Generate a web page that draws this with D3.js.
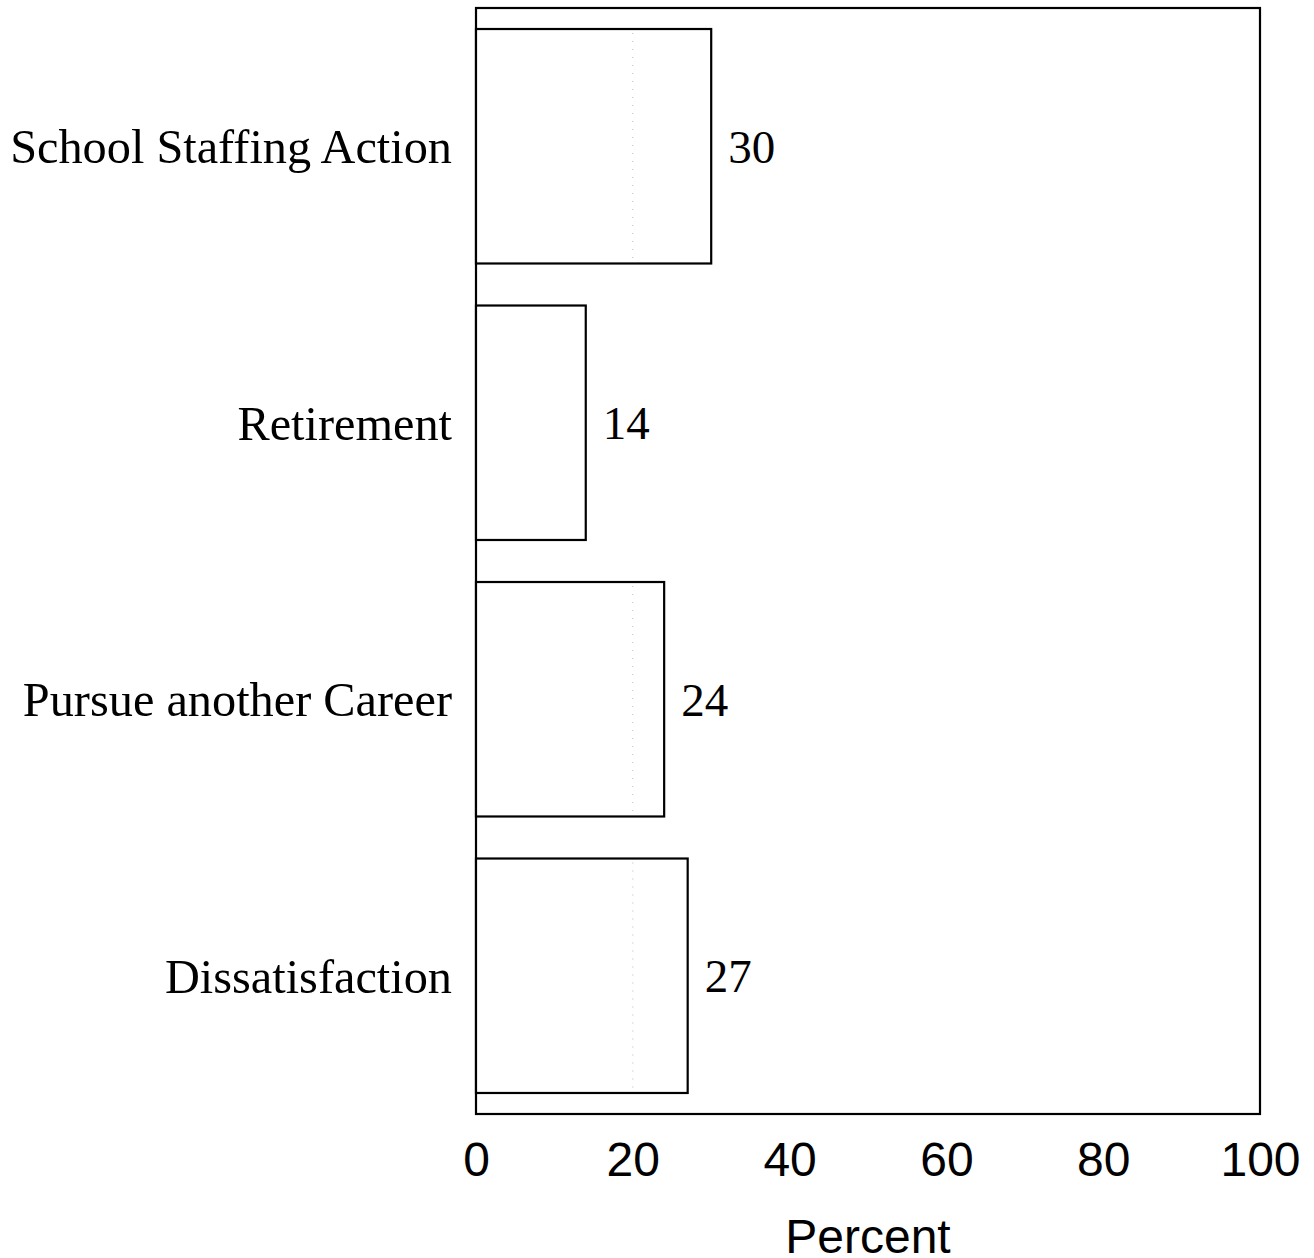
<!DOCTYPE html>
<html>
<head>
<meta charset="utf-8">
<script src="https://cdn.jsdelivr.net/npm/d3@7"></script>
<style>
  html, body { margin: 0; padding: 0; background: #fff; }
  svg { display: block; }
</style>
</head>
<body>
<svg id="chart" width="1314" height="1258"></svg>
<script>
const categories = ["School Staffing Action", "Retirement", "Pursue another Career", "Dissatisfaction"];
const values = [30, 14, 24, 27];
const xTicks = [0, 20, 40, 60, 80, 100];
const xTitle = "Percent";

(function () {
const svg = d3.select("#chart");
const pL = 476, pR = 1260, pT = 8, pB = 1114;

const x = d3.scaleLinear().domain([0, 100]).range([pL, pR]);
const y = d3.scaleBand().domain(categories).range([pT, pB])
  .paddingInner(0.152).paddingOuter(0.076);

// frame
svg.append("rect")
  .attr("x", pL).attr("y", pT)
  .attr("width", pR - pL).attr("height", pB - pT)
  .attr("fill", "none").attr("stroke", "#000").attr("stroke-width", 2.2);

const data = categories.map((c, i) => ({ c, v: values[i] }));

// bars
svg.selectAll("rect.bar").data(data).join("rect")
  .attr("class", "bar")
  .attr("x", x(0)).attr("y", d => y(d.c))
  .attr("width", d => x(d.v) - x(0)).attr("height", y.bandwidth())
  .attr("fill", "#fff").attr("stroke", "#000").attr("stroke-width", 2.2);

// faint dotted line at 20 inside bars
svg.selectAll("line.dot").data(data.filter(d => d.v > 20)).join("line")
  .attr("class", "dot")
  .attr("x1", x(20)).attr("x2", x(20))
  .attr("y1", d => y(d.c) + 4).attr("y2", d => y(d.c) + y.bandwidth() - 4)
  .attr("stroke", "#bbb").attr("stroke-width", 1)
  .attr("stroke-dasharray", "1,7");

// value labels
svg.selectAll("text.val").data(data).join("text")
  .attr("class", "val")
  .attr("x", d => x(d.v) + 17)
  .attr("y", d => y(d.c) + y.bandwidth() / 2)
  .attr("dy", "0.35em")
  .attr("font-family", "'Liberation Serif', 'Times New Roman', serif")
  .attr("font-size", 47)
  .text(d => d.v);

// category labels
svg.selectAll("text.cat").data(categories).join("text")
  .attr("class", "cat")
  .attr("x", pL - 24)
  .attr("y", d => y(d) + y.bandwidth() / 2)
  .attr("dy", "0.35em")
  .attr("text-anchor", "end")
  .attr("font-family", "'Liberation Serif', 'Times New Roman', serif")
  .attr("font-size", 48.3)
  .text(d => d);

// x axis
const axis = d3.axisBottom(x).tickValues(xTicks).tickSize(0).tickPadding(0);
const g = svg.append("g").attr("transform", `translate(0,${pB})`).call(axis);
g.select(".domain").remove();
g.selectAll("text")
  .attr("y", 62)
  .attr("dy", 0)
  .attr("font-family", "'Liberation Sans', Arial, sans-serif")
  .attr("font-size", 48)
  .attr("fill", "#000");

svg.append("text")
  .attr("x", x(50)).attr("y", 1253)
  .attr("text-anchor", "middle")
  .attr("font-family", "'Liberation Sans', Arial, sans-serif")
  .attr("font-size", 48)
  .text(xTitle);
})();
</script>
</body>
</html>
